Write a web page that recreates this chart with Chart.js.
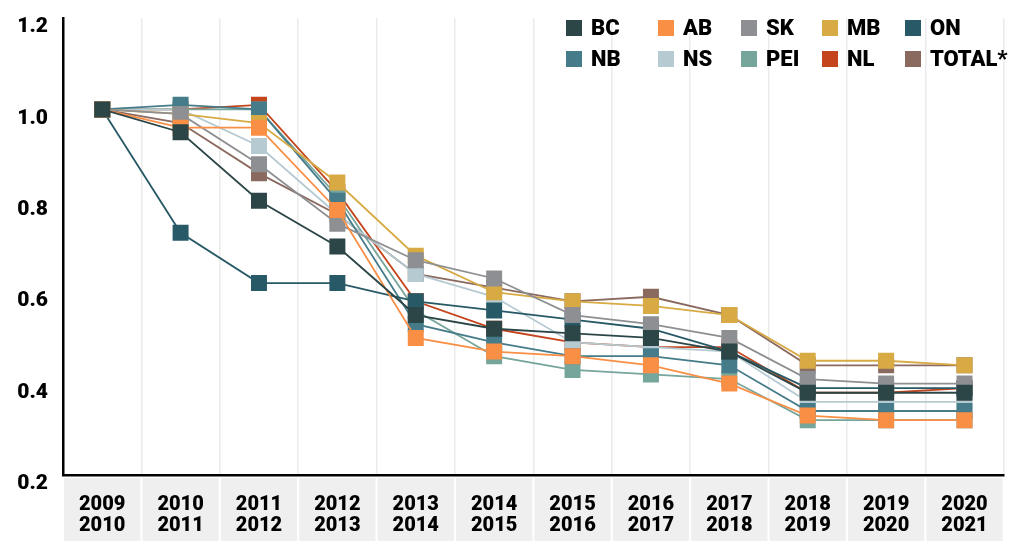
<!DOCTYPE html>
<html>
<head>
<meta charset="utf-8">
<script src="https://cdn.jsdelivr.net/npm/chart.js@4.4.1/dist/chart.umd.min.js"></script>
<style>
  html, body { margin: 0; padding: 0; background: #ffffff; }
  #wrap { position: relative; width: 1015px; height: 541px; overflow: hidden; }
  #legend {
    position: absolute; left: 566px; top: 20px;
    display: grid; grid-template-columns: 92px 83px 81px 83px auto; grid-auto-rows: 31px;
    font-family: Roboto, "Liberation Sans", sans-serif; font-weight: 900; font-size: 22px; color: #000;
  }
  .item { display: flex; align-items: center; height: 16px; white-space: nowrap; }
  .box { width: 16px; height: 16px; margin-right: 9px; flex: none; }
  .lbl { line-height: 16px; }
</style>
</head>
<body>
<div id="wrap">
  <canvas id="c" width="1015" height="541"></canvas>
  <div id="legend"></div>
</div>
<script>
// ---- data ----
const categories = [
  ["2009", "2010"], ["2010", "2011"], ["2011", "2012"], ["2012", "2013"],
  ["2013", "2014"], ["2014", "2015"], ["2015", "2016"], ["2016", "2017"],
  ["2017", "2018"], ["2018", "2019"], ["2019", "2020"], ["2020", "2021"]
];
const seriesNames = ["BC", "AB", "SK", "MB", "ON", "NB", "NS", "PEI", "NL", "TOTAL*"];

const BC    = [1.00, 0.95, 0.80, 0.70, 0.55, 0.52, 0.51, 0.50, 0.47, 0.38, 0.38, 0.38];
const AB    = [1.00, 0.96, 0.96, 0.78, 0.50, 0.47, 0.46, 0.44, 0.40, 0.33, 0.32, 0.32];
const SK    = [1.00, 0.99, 0.88, 0.75, 0.67, 0.63, 0.55, 0.53, 0.50, 0.41, 0.40, 0.40];
const MB    = [1.00, 0.99, 0.97, 0.84, 0.68, 0.60, 0.58, 0.57, 0.55, 0.45, 0.45, 0.44];
const ON    = [1.00, 0.73, 0.62, 0.62, 0.58, 0.56, 0.54, 0.52, 0.47, 0.39, 0.39, 0.39];
const NB    = [1.00, 1.01, 1.00, 0.80, 0.53, 0.49, 0.46, 0.46, 0.44, 0.34, 0.34, 0.34];
const NS    = [1.00, 1.00, 0.92, 0.77, 0.64, 0.59, 0.49, 0.48, 0.47, 0.36, 0.36, 0.36];
const PEI   = [1.00, 1.00, 1.00, 0.81, 0.56, 0.46, 0.43, 0.42, 0.41, 0.32, 0.32, 0.32];
const NL    = [1.00, 1.00, 1.01, 0.82, 0.58, 0.52, 0.49, 0.48, 0.48, 0.38, 0.38, 0.39];
const TOTAL = [1.00, 0.97, 0.86, 0.77, 0.64, 0.61, 0.58, 0.59, 0.55, 0.44, 0.44, 0.44];

const yMin = 0.2, yMax = 1.2, yStep = 0.2;

// ---- styles ----
const seriesValues = [BC, AB, SK, MB, ON, NB, NS, PEI, NL, TOTAL];
const seriesColors = ["#2c4647", "#f98f45", "#8d8f92", "#d8aa44", "#275a66",
                      "#467c8a", "#b6cad1", "#76a59b", "#c4451c", "#8a695e"];
const FONT = 'Roboto, "Liberation Sans", sans-serif';

// legend (HTML, real text)
const legendEl = document.getElementById('legend');
seriesNames.forEach((name, i) => {
  const it = document.createElement('div');
  it.className = 'item';
  const b = document.createElement('span');
  b.className = 'box';
  b.style.background = seriesColors[i];
  const t = document.createElement('span');
  t.className = 'lbl';
  t.textContent = name;
  it.appendChild(b); it.appendChild(t);
  legendEl.appendChild(it);
});

const cellBands = {
  id: 'cellBands',
  beforeDraw(chart) {
    const { ctx, chartArea, scales: { x } } = chart;
    const n = x.ticks.length;
    const w = (chartArea.right - chartArea.left) / n;
    ctx.save();
    ctx.fillStyle = '#efefef';
    for (let i = 0; i < n; i++) {
      const c = x.getPixelForTick(i);
      ctx.fillRect(c - w / 2 + 1, chartArea.bottom + 3, w - 2, chart.height - chartArea.bottom - 3);
    }
    ctx.restore();
  }
};

new Chart(document.getElementById('c'), {
  type: 'line',
  data: {
    labels: categories,
    datasets: seriesValues.map((vals, i) => ({
      label: seriesNames[i],
      data: vals,
      borderColor: seriesColors[i],
      backgroundColor: seriesColors[i],
      borderWidth: 1.8,
      tension: 0,
      pointStyle: 'rect',
      pointRadius: 11.3,
      pointHoverRadius: 11.3,
      pointBorderWidth: 0,
      pointBackgroundColor: seriesColors[i],
      fill: false
    }))
  },
  plugins: [cellBands],
  options: {
    responsive: false,
    animation: false,
    devicePixelRatio: 1,
    layout: { padding: { top: 18, right: 5, left: 0, bottom: 0 } },
    plugins: { legend: { display: false }, tooltip: { enabled: false } },
    scales: {
      x: {
        type: 'category',
        offset: true,
        grid: { display: true, offset: true, color: '#ebebeb', lineWidth: 1.5, drawTicks: false },
        border: { display: true, color: '#000', width: 2.5 },
        ticks: {
          font: { family: FONT, size: 20, weight: '900', lineHeight: 1.05 },
          color: '#000', padding: 19, maxRotation: 0, autoSkip: false
        },
        afterFit(s) { s.height = 66; s.paddingLeft = 0; s.paddingRight = 0; }
      },
      y: {
        min: yMin, max: yMax,
        grid: { display: false, drawTicks: false },
        border: { display: true, color: '#000', width: 2.5 },
        ticks: {
          stepSize: yStep,
          callback: v => Number(v).toFixed(1),
          font: { family: FONT, size: 21, weight: '900' },
          color: '#000', padding: 15, labelOffset: 9
        },
        afterFit(s) { s.width = 63; s.paddingTop = 0; s.paddingBottom = 0; }
      }
    }
  }
});
</script>
</body>
</html>
